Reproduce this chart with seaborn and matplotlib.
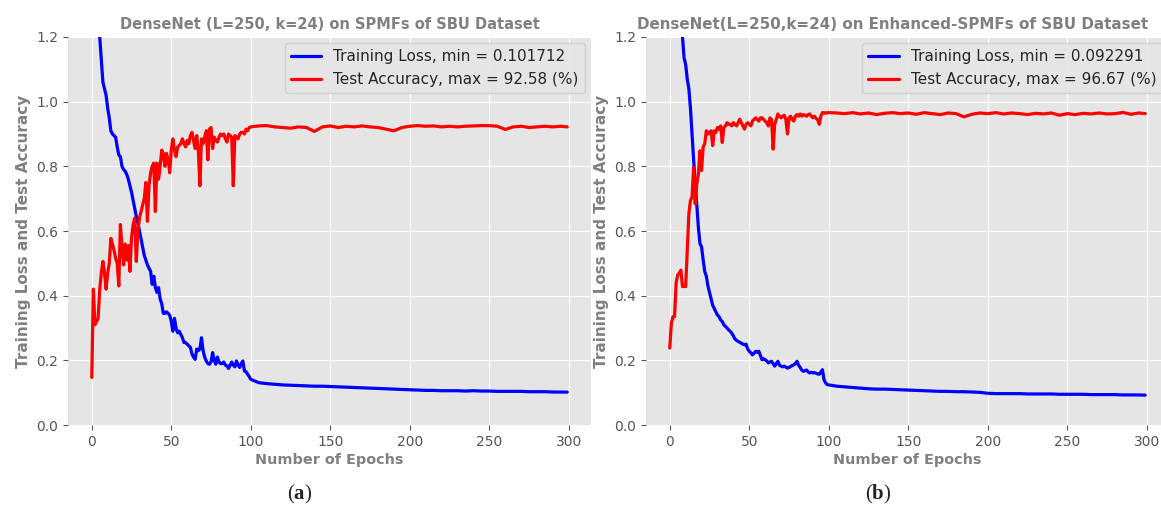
import matplotlib
matplotlib.use("Agg")
import matplotlib.pyplot as plt
import seaborn as sns
import pandas as pd

# ---------------- data ----------------
epochs = list(range(0, 100)) + list(range(100, 300, 5)) + [299]

loss_a = [
    2.10, 1.80, 1.58, 1.42, 1.30, 1.20, 1.13, 1.06, 1.04, 1.02,
    0.98, 0.95, 0.91, 0.90, 0.895, 0.89, 0.86, 0.835, 0.83, 0.80,
    0.79, 0.785, 0.775, 0.76, 0.74, 0.72, 0.695, 0.67, 0.645, 0.625,
    0.60, 0.575, 0.55, 0.525, 0.51, 0.495, 0.485, 0.475, 0.435, 0.46,
    0.425, 0.41, 0.425, 0.39, 0.375, 0.345, 0.345, 0.35, 0.345, 0.34,
    0.32, 0.29, 0.33, 0.30, 0.285, 0.29, 0.28, 0.27, 0.255, 0.255,
    0.25, 0.245, 0.24, 0.22, 0.21, 0.203, 0.235, 0.23, 0.235, 0.27,
    0.23, 0.21, 0.198, 0.19, 0.188, 0.195, 0.224, 0.20, 0.188, 0.21,
    0.195, 0.19, 0.19, 0.195, 0.185, 0.183, 0.175, 0.185, 0.195, 0.185,
    0.18, 0.198, 0.185, 0.178, 0.19, 0.198, 0.167, 0.165, 0.157, 0.15,
    0.141, 0.131, 0.128, 0.126, 0.124, 0.123, 0.122, 0.121, 0.120, 0.120,
    0.119, 0.118, 0.117, 0.116, 0.115, 0.114, 0.113, 0.112, 0.111, 0.110,
    0.109, 0.108, 0.107, 0.107, 0.106, 0.106, 0.106, 0.105, 0.106, 0.105,
    0.105, 0.104, 0.104, 0.104, 0.104, 0.103, 0.103, 0.103, 0.102, 0.102,
    0.1017,
]

acc_a = [
    0.147, 0.42, 0.31, 0.32, 0.33, 0.42, 0.47, 0.506, 0.47, 0.42,
    0.47, 0.50, 0.577, 0.56, 0.54, 0.516, 0.50, 0.43, 0.62, 0.55,
    0.495, 0.56, 0.51, 0.555, 0.475, 0.58, 0.62, 0.64, 0.506, 0.60,
    0.64, 0.66, 0.68, 0.70, 0.75, 0.63, 0.74, 0.78, 0.80, 0.81,
    0.66, 0.81, 0.76, 0.80, 0.85, 0.84, 0.80, 0.84, 0.82, 0.78,
    0.85, 0.885, 0.85, 0.83, 0.86, 0.865, 0.87, 0.885, 0.87, 0.86,
    0.88, 0.87, 0.895, 0.905, 0.88, 0.855, 0.895, 0.85, 0.74, 0.885,
    0.87, 0.89, 0.91, 0.82, 0.915, 0.92, 0.855, 0.89, 0.88, 0.875,
    0.89, 0.90, 0.895, 0.90, 0.885, 0.875, 0.90, 0.895, 0.89, 0.74,
    0.895, 0.89, 0.885, 0.90, 0.905, 0.905, 0.90, 0.915, 0.91, 0.92,
    0.922, 0.925, 0.926, 0.922, 0.92, 0.918, 0.922, 0.92, 0.908, 0.922,
    0.925, 0.92, 0.924, 0.922, 0.925, 0.922, 0.92, 0.915, 0.91, 0.92,
    0.924, 0.926, 0.924, 0.925, 0.922, 0.924, 0.922, 0.924, 0.925, 0.926,
    0.9258, 0.924, 0.914, 0.922, 0.924, 0.92, 0.922, 0.924, 0.922, 0.924,
    0.922,
]

loss_b = [
    2.30, 2.10, 1.95, 1.80, 1.65, 1.52, 1.40, 1.30, 1.20, 1.135,
    1.115, 1.07, 1.04, 0.98, 0.90, 0.82, 0.75, 0.68, 0.61, 0.561,
    0.551, 0.51, 0.475, 0.46, 0.43, 0.41, 0.39, 0.37, 0.36, 0.35,
    0.34, 0.335, 0.325, 0.32, 0.31, 0.305, 0.30, 0.294, 0.29, 0.284,
    0.275, 0.266, 0.262, 0.258, 0.256, 0.253, 0.25, 0.248, 0.25, 0.235,
    0.228, 0.223, 0.217, 0.222, 0.228, 0.225, 0.228, 0.215, 0.202, 0.205,
    0.202, 0.198, 0.192, 0.195, 0.197, 0.19, 0.182, 0.19, 0.197, 0.185,
    0.182, 0.18, 0.182, 0.179, 0.176, 0.178, 0.181, 0.184, 0.186, 0.19,
    0.197, 0.185, 0.178, 0.17, 0.166, 0.168, 0.17, 0.164, 0.161, 0.163,
    0.161, 0.162, 0.16, 0.158, 0.157, 0.163, 0.171, 0.14, 0.13, 0.125,
    0.124, 0.120, 0.118, 0.116, 0.114, 0.112, 0.111, 0.111, 0.110, 0.109,
    0.108, 0.107, 0.106, 0.105, 0.104, 0.104, 0.103, 0.103, 0.102, 0.101,
    0.098, 0.097, 0.097, 0.097, 0.097, 0.096, 0.096, 0.096, 0.096, 0.095,
    0.095, 0.095, 0.095, 0.094, 0.094, 0.094, 0.094, 0.093, 0.093, 0.093,
    0.0923,
]

acc_b = [
    0.238, 0.315, 0.335, 0.335, 0.44, 0.464, 0.47, 0.479, 0.428, 0.43,
    0.428, 0.54, 0.653, 0.694, 0.705, 0.797, 0.684, 0.746, 0.776, 0.848,
    0.787, 0.86, 0.87, 0.91, 0.90, 0.905, 0.91, 0.864, 0.91, 0.905,
    0.92, 0.915, 0.925, 0.874, 0.92, 0.925, 0.935, 0.93, 0.93, 0.925,
    0.935, 0.93, 0.925, 0.935, 0.946, 0.935, 0.925, 0.915, 0.93, 0.935,
    0.93, 0.925, 0.94, 0.945, 0.95, 0.945, 0.94, 0.95, 0.95, 0.945,
    0.94, 0.935, 0.925, 0.95, 0.945, 0.853, 0.93, 0.945, 0.962, 0.955,
    0.95, 0.955, 0.958, 0.945, 0.90, 0.95, 0.955, 0.945, 0.94, 0.955,
    0.96, 0.955, 0.962, 0.955, 0.96, 0.958, 0.955, 0.96, 0.962, 0.955,
    0.95, 0.955, 0.948, 0.945, 0.93, 0.955, 0.966, 0.966, 0.964, 0.966,
    0.966, 0.965, 0.963, 0.966, 0.962, 0.965, 0.96, 0.964, 0.966, 0.963,
    0.965, 0.961, 0.966, 0.963, 0.96, 0.965, 0.963, 0.953, 0.961, 0.965,
    0.963, 0.966, 0.962, 0.965, 0.963, 0.96, 0.964, 0.962, 0.965, 0.958,
    0.963, 0.96, 0.964, 0.962, 0.965, 0.962, 0.963, 0.9667, 0.961, 0.965,
    0.963,
]

titles = ["DenseNet (L=250, k=24) on SPMFs of SBU Dataset",
          "DenseNet(L=250,k=24) on Enhanced-SPMFs of SBU Dataset"]
loss_labels = ["Training Loss, min = 0.101712", "Training Loss, min = 0.092291"]
acc_labels = ["Test Accuracy, max = 92.58 (%)", "Test Accuracy, max = 96.67 (%)"]
captions = ["a", "b"]
xticks = [0, 50, 100, 150, 200, 250, 300]
yticks = [0.0, 0.2, 0.4, 0.6, 0.8, 1.0, 1.2]

# ---------------- style ----------------
sns.set_style("darkgrid", {
    "axes.facecolor": "#E5E5E5",
    "grid.color": "white",
    "axes.edgecolor": "white",
    "xtick.bottom": True,
    "ytick.left": True,
    "xtick.color": "#555555",
    "ytick.color": "#555555",
    "xtick.direction": "out",
    "ytick.direction": "out",
})
plt.rcParams["font.family"] = ["DejaVu Sans"]
plt.rcParams["mathtext.fontset"] = "custom"
plt.rcParams["mathtext.rm"] = "Liberation Serif"
plt.rcParams["mathtext.bf"] = "Liberation Serif:bold"
plt.rcParams["xtick.major.size"] = 3.5
plt.rcParams["ytick.major.size"] = 3.5
plt.rcParams["xtick.major.width"] = 0.8
plt.rcParams["ytick.major.width"] = 0.8

W, H = 1161, 511
fig = plt.figure(figsize=(W / 100, H / 100), dpi=100)
fig.patch.set_facecolor("white")

positions = [
    [68 / W, (H - 425) / H, (591 - 68) / W, (425 - 37) / H],
    [646 / W, (H - 425) / H, (591 - 68) / W, (425 - 37) / H],
]
series = [(loss_a, acc_a), (loss_b, acc_b)]
title_sizes = [10.5, 10.9]
title_x = [0.5, 0.471]
gray = "#808080"

for i in range(2):
    ax = fig.add_axes(positions[i])
    loss, acc = series[i]
    df = pd.DataFrame({"epoch": epochs, "loss": loss, "acc": acc})
    sns.lineplot(data=df, x="epoch", y="loss", ax=ax, color="blue",
                 linewidth=2.3, label=loss_labels[i])
    sns.lineplot(data=df, x="epoch", y="acc", ax=ax, color="red",
                 linewidth=2.3, label=acc_labels[i])
    ax.set_xlim(-14.95, 313.95)
    ax.set_ylim(0, 1.2)
    ax.set_xticks(xticks)
    ax.set_yticks(yticks)
    ax.set_yticklabels([f"{v:.1f}" for v in yticks])
    ax.tick_params(labelsize=10, colors="#555555", labelcolor="#555555")
    ax.set_title(titles[i], fontsize=title_sizes[i], fontweight="bold",
                 color=gray, pad=6, x=title_x[i])
    ax.set_xlabel("Number of Epochs", fontsize=10.4, fontweight="bold",
                  color=gray, labelpad=3)
    ax.set_ylabel("Training Loss and Test Accuracy", fontsize=11,
                  fontweight="bold", color=gray)
    ax.legend(loc="upper right", fontsize=11, frameon=True,
              facecolor="#E5E5E5", edgecolor="#CCCCCC", framealpha=0.85,
              handlelength=2.0, borderaxespad=0.4)
    for spine in ax.spines.values():
        spine.set_visible(False)

fig.text(300 / W, 1 - 494 / H, r"($\mathbf{" + captions[0] + r"}$)",
         family="Liberation Serif", fontsize=15, ha="center", va="center")
fig.text(878 / W, 1 - 494 / H, r"($\mathbf{" + captions[1] + r"}$)",
         family="Liberation Serif", fontsize=15, ha="center", va="center")

fig.savefig("out.png", dpi=100)
